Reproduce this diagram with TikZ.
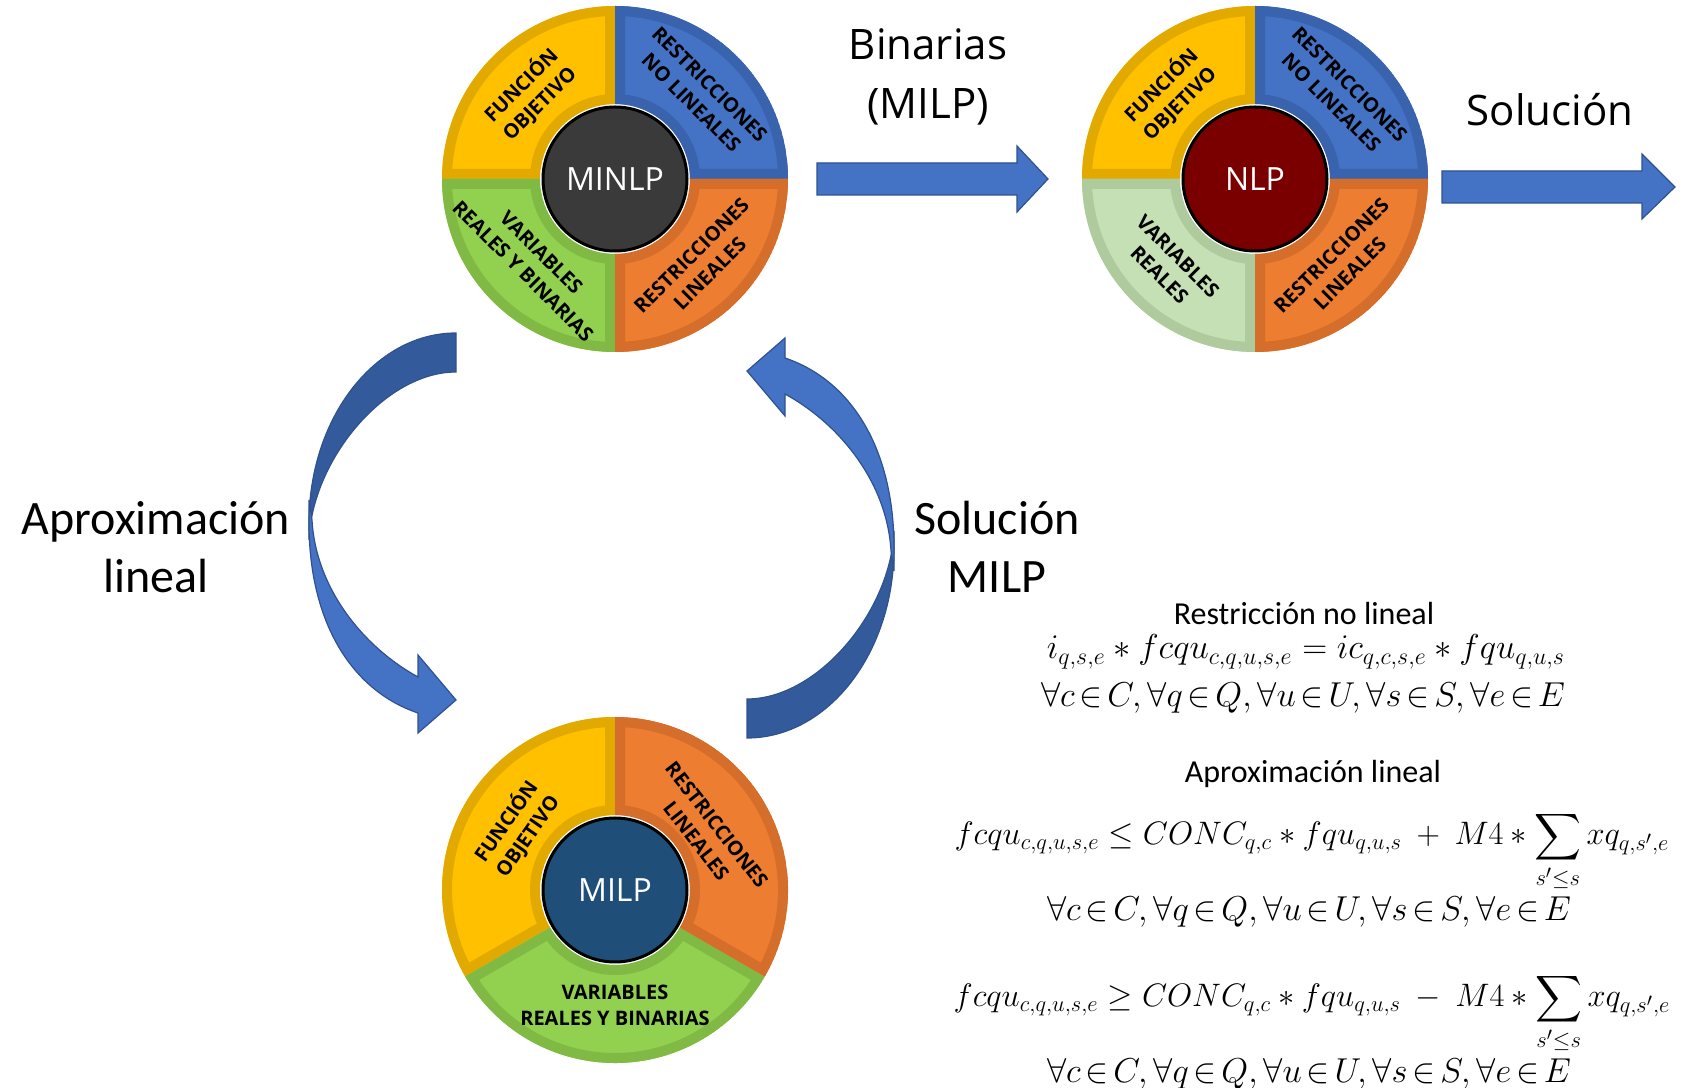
\documentclass[tikz,border=0pt]{standalone}
\usepackage{amsmath,amssymb}
\usepackage{graphicx}
\usepackage{fontspec}
\setmainfont{Carlito}
\newfontfamily\opensans{Open Sans}
\usetikzlibrary{calc}

\definecolor{fyellow}{HTML}{FFC000}
\definecolor{byellow}{HTML}{E2AA00}
\definecolor{fblue}{HTML}{4472C4}
\definecolor{bblue}{HTML}{3A63AD}
\definecolor{forange}{HTML}{ED7D31}
\definecolor{borange}{HTML}{D46E2A}
\definecolor{fgreen}{HTML}{92D050}
\definecolor{bgreen}{HTML}{80BA45}
\definecolor{fpale}{HTML}{C5E0B4}
\definecolor{bpale}{HTML}{AFCB9E}
\definecolor{cminlp}{HTML}{3A3A3A}
\definecolor{cnlp}{HTML}{7A0000}
\definecolor{cmilp}{HTML}{1F4E79}
\definecolor{arrowdark}{HTML}{335A9A}
\definecolor{arrowline}{HTML}{2F528F}

\newcommand\tightmath{\thickmuskip=2.5mu\relax}

\newcommand\ringpart[5]{%
  \def\ringpath{($(#1)+(#2:173)$) arc[start angle=#2,end angle=#3,radius=173] -- ++(#3:-98) arc[start angle=#3,end angle=#2,radius=75] -- cycle}%
  \begin{scope}
    \clip \ringpath;
    \fill[#4] \ringpath;
    \draw[#5,line width=10pt] \ringpath;
  \end{scope}}

\newcommand\bentarrow[1]{%
  \begin{scope}[#1]
    \filldraw[fill=arrowdark,draw=arrowline,line width=0.6pt] (456,755) .. controls (375,755) and (309,670) .. (309,565) -- (309,548) .. controls (312,628) and (385,716) .. (456,716) -- cycle;
    \filldraw[fill=fblue,draw=arrowline,line width=0.6pt] (309,588) -- (309,565) .. controls (309,468) and (350,398) .. (418,375) -- (418,355) -- (456,388) -- (418,433) -- (418,411) .. controls (365,440) and (316,498) .. (312,568) -- cycle;
  \end{scope}}

\begin{document}
\begin{tikzpicture}[
    x=0.5pt, y=0.5pt,
    core/.style={circle,draw=black,line width=1.5pt,minimum size=72pt,inner sep=0pt,text=white,font=\opensans\fontsize{16}{19}\selectfont},
    sect/.style={align=center,inner sep=0pt,font=\opensans\bfseries\fontsize{10}{13}\selectfont},
    big/.style={align=center,font=\opensans\fontsize{21}{29.5}\selectfont},
    side/.style={align=center,font=\fontsize{24}{29}\selectfont},
    caption/.style={font=\fontsize{16}{19}\selectfont},
    formula/.style={font=\fontsize{17.28}{20}\selectfont},
    forallset/.style={font=\fontsize{17.28}{20}\selectfont\tightmath},
    blockarrow/.style={fill=fblue,draw=arrowline,line width=0.6pt}
]
\useasboundingbox (0,0) rectangle (1683,1088);

\coordinate (cA) at (615,909);
\coordinate (cB) at (1255,909);
\coordinate (cC) at (615,198);

\ringpart{cA}{90}{180}{fyellow}{byellow}
\ringpart{cA}{0}{90}{fblue}{bblue}
\ringpart{cA}{180}{270}{fgreen}{bgreen}
\ringpart{cA}{270}{360}{forange}{borange}

\ringpart{cB}{90}{180}{fyellow}{byellow}
\ringpart{cB}{0}{90}{fblue}{bblue}
\ringpart{cB}{180}{270}{fpale}{bpale}
\ringpart{cB}{270}{360}{forange}{borange}

\ringpart{cC}{90}{210}{fyellow}{byellow}
\ringpart{cC}{210}{330}{fgreen}{bgreen}
\ringpart{cC}{-30}{90}{forange}{borange}

\node[core,fill=cminlp] (MINLP) at (cA) {MINLP};
\node[core,fill=cnlp] (NLP) at (cB) {NLP};
\node[core,fill=cmilp] (MILP) at (cC) {MILP};

\node[sect,rotate=45] at ($(cA)+(135:120)$) {FUNCIÓN\\OBJETIVO};
\node[sect,rotate=-45] at ($(cA)+(45:121)$) {RESTRICCIONES\\NO LINEALES};
\node[sect,rotate=-45] at ($(cA)+(225:117)$) {VARIABLES\\REALES Y BINARIAS};
\node[sect,rotate=45] at ($(cA)+(315:121)$) {RESTRICCIONES\\LINEALES};

\node[sect,rotate=45] at ($(cB)+(135:120)$) {FUNCIÓN\\OBJETIVO};
\node[sect,rotate=-45] at ($(cB)+(45:121)$) {RESTRICCIONES\\NO LINEALES};
\node[sect,rotate=-45] at ($(cB)+(225:122)$) {VARIABLES\\REALES};
\node[sect,rotate=45] at ($(cB)+(315:121)$) {RESTRICCIONES\\LINEALES};

\node[sect,rotate=55] at ($(cC)+(148:116)$) {FUNCIÓN\\OBJETIVO};
\node[sect,rotate=-52] at ($(cC)+(32:108)$) {RESTRICCIONES\\LINEALES};
\node[sect] at ($(cC)+(270:115)$) {VARIABLES\\REALES Y BINARIAS};

\draw[blockarrow] (817,925) -- (1017,925) -- (1017,942) -- (1048,909) -- (1017,876) -- (1017,893) -- (817,893) -- cycle;
\draw[blockarrow] (1442,917) -- (1642,917) -- (1642,934) -- (1675,901) -- (1642,869) -- (1642,885) -- (1442,885) -- cycle;

\bentarrow{}
\bentarrow{rotate around={180:(601.5,552.5)}}

\node[big,anchor=base] (binlbl) at (928,969) {Binarias\\(MILP)};
\node[big,anchor=base] (sollbl) at (1550,962) {Solución};
\node[side,anchor=base] (aproxlbl) at (156,495) {Aproximación\\lineal};
\node[side,anchor=base] (milplbl) at (997,495) {Solución\\MILP};

\node[caption,anchor=base] (nlcap) at (1304,463) {Restricción no lineal};
\node[formula,anchor=base] (eqA) at (1306,429) {$i_{q,s,e} * fcqu_{c,q,u,s,e} = ic_{q,c,s,e} * fqu_{q,u,s}$};
\node[forallset,anchor=base] (setA) at (1303,381) {$\forall c\in C,\forall q\in Q,\forall u\in U,\forall s\in S,\forall e\in E$};
\node[caption,anchor=base] (lincap) at (1313,305) {Aproximación lineal};
\node[formula,anchor=base] (eqB) at (1312,243) {\scalebox{0.94}{$\displaystyle fcqu_{c,q,u,s,e}\le CONC_{q,c} * fqu_{q,u,s}\ +\ M4 * \sum_{s'\le s} xq_{q,s',e}$}};
\node[forallset,anchor=base] (setB) at (1309,167) {$\forall c\in C,\forall q\in Q,\forall u\in U,\forall s\in S,\forall e\in E$};
\node[formula,anchor=base] (eqC) at (1312,81) {\scalebox{0.94}{$\displaystyle fcqu_{c,q,u,s,e}\ge CONC_{q,c} * fqu_{q,u,s}\ -\ M4 * \sum_{s'\le s} xq_{q,s',e}$}};
\node[forallset,anchor=base] (setC) at (1309,5) {$\forall c\in C,\forall q\in Q,\forall u\in U,\forall s\in S,\forall e\in E$};
\end{tikzpicture}
\end{document}
